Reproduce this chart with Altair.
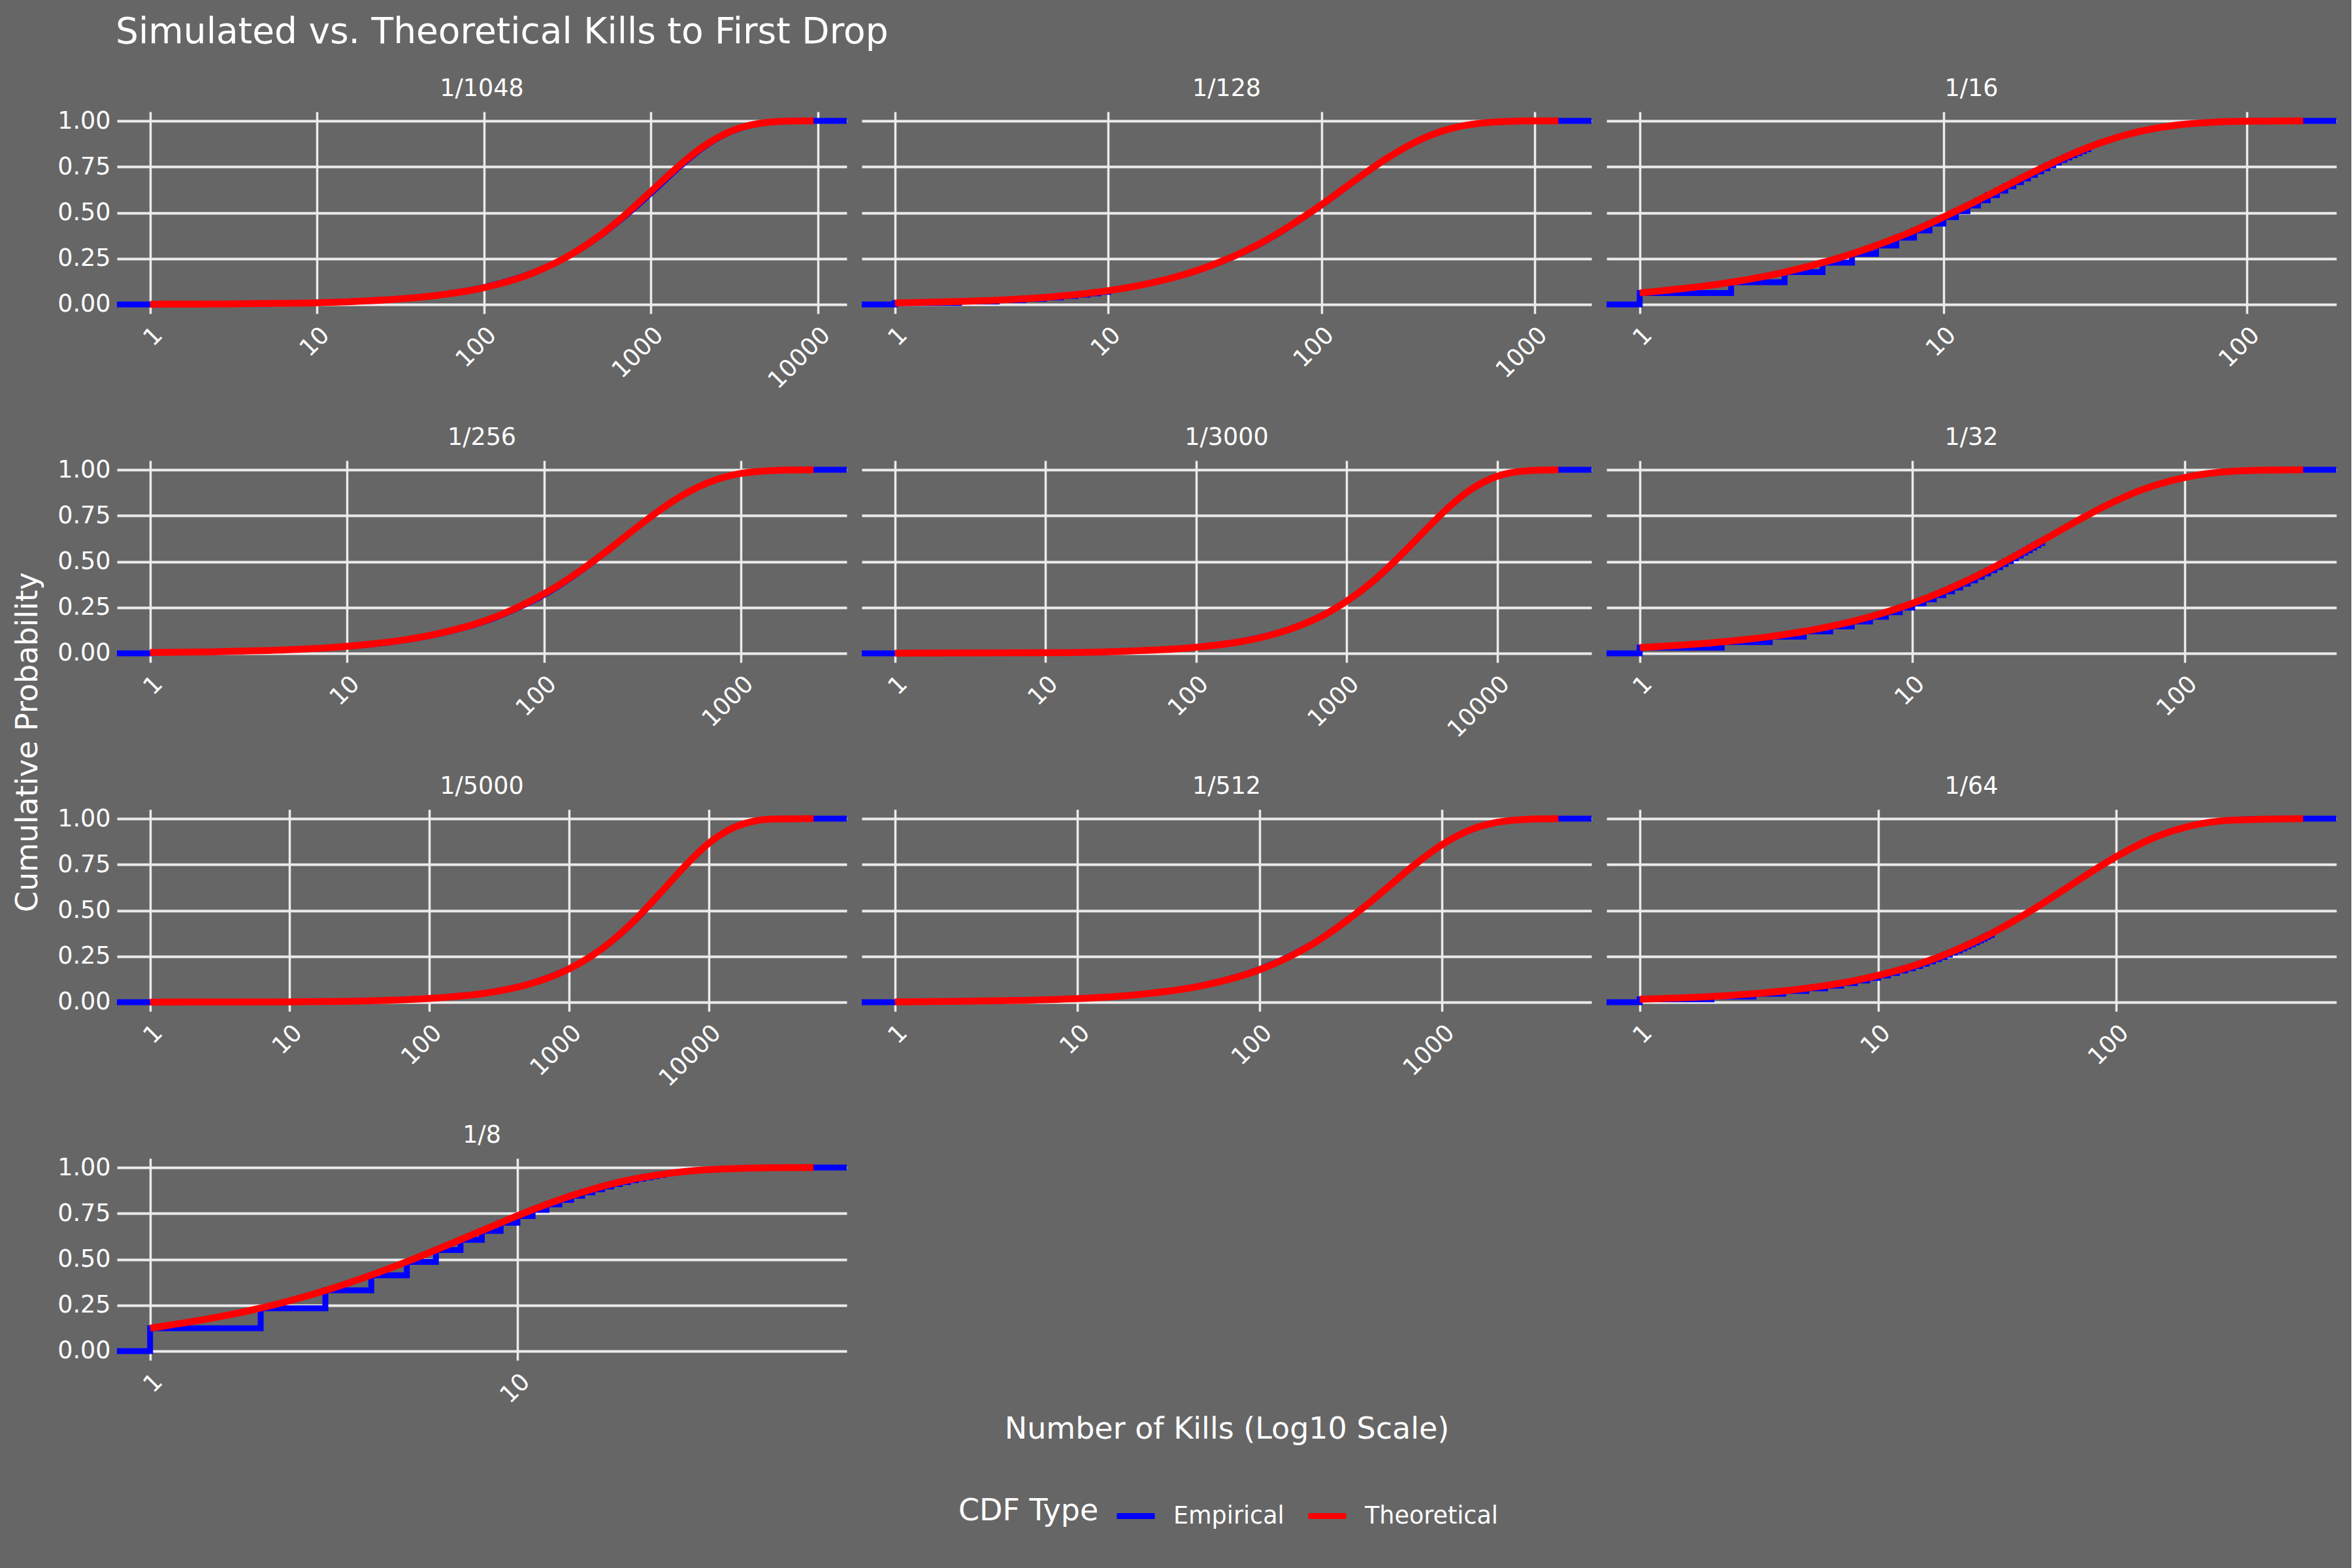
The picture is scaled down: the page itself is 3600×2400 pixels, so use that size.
import math
import altair as alt
import pandas as pd

FONT = "DejaVu Sans"
TXT = "#FFFFFF"
BG = "#666666"
GRID = "#EBEBEB"

panels = ["1/1048", "1/128", "1/16", "1/256", "1/3000",
          "1/32", "1/5000", "1/512", "1/64", "1/8"]
# largest observed number of kills per panel (end of the red curve)
panel_max = [9440, 1290, 153, 2335, 25500, 272, 56500, 4345, 608, 64]
# kills up to which the empirical CDF is drawn as visible steps
step_limit = [1, 10, 30, 1, 1, 30, 1, 1, 30, 25]

# ---- theoretical CDF ----
t_1048_x = [1, 2, 5, 10, 20, 50, 100, 200, 300, 500, 700, 1000, 1500, 2000, 3000, 4000, 5000, 7000, 9440]
t_1048_y = [0.001, 0.002, 0.005, 0.009, 0.019, 0.047, 0.091, 0.174, 0.249, 0.379, 0.487, 0.615, 0.761, 0.852, 0.943, 0.978, 0.992, 0.999, 1.0]
t_128_x = [1, 2, 3, 5, 7, 10, 15, 20, 30, 50, 70, 100, 150, 200, 300, 400, 500, 700, 1000, 1290]
t_128_y = [0.008, 0.016, 0.023, 0.038, 0.053, 0.075, 0.111, 0.145, 0.210, 0.324, 0.423, 0.543, 0.692, 0.792, 0.905, 0.957, 0.980, 0.996, 1.0, 1.0]
t_16_x = [1, 2, 3, 4, 5, 6, 7, 8, 9, 10, 12, 15, 20, 25, 30, 40, 50, 60, 80, 100, 153]
t_16_y = [0.0625, 0.121, 0.176, 0.228, 0.276, 0.321, 0.363, 0.402, 0.440, 0.476, 0.539, 0.620, 0.725, 0.801, 0.856, 0.924, 0.960, 0.979, 0.994, 0.998, 1.0]
t_256_x = [1, 2, 5, 10, 20, 30, 50, 70, 100, 150, 200, 300, 400, 500, 700, 1000, 1500, 2335]
t_256_y = [0.004, 0.008, 0.019, 0.038, 0.075, 0.111, 0.177, 0.240, 0.324, 0.444, 0.543, 0.691, 0.791, 0.859, 0.935, 0.980, 0.997, 1.0]
t_3000_x = [1, 10, 30, 100, 200, 300, 500, 700, 1000, 1500, 2000, 3000, 4000, 5000, 7000, 10000, 15000, 25500]
t_3000_y = [0.0003, 0.003, 0.010, 0.033, 0.064, 0.095, 0.154, 0.208, 0.283, 0.393, 0.487, 0.632, 0.736, 0.811, 0.903, 0.964, 0.993, 1.0]
t_32_x = [1, 2, 3, 4, 5, 6, 7, 8, 9, 10, 12, 15, 20, 25, 30, 40, 50, 70, 100, 150, 200, 272]
t_32_y = [0.031, 0.062, 0.091, 0.119, 0.147, 0.173, 0.199, 0.224, 0.248, 0.272, 0.317, 0.379, 0.470, 0.548, 0.614, 0.719, 0.796, 0.892, 0.958, 0.992, 0.998, 1.0]
t_5000_x = [1, 10, 30, 100, 300, 500, 1000, 1500, 2000, 3000, 4000, 5000, 7000, 10000, 15000, 20000, 30000, 56500]
t_5000_y = [0.0002, 0.002, 0.006, 0.020, 0.058, 0.095, 0.181, 0.259, 0.330, 0.451, 0.551, 0.632, 0.753, 0.865, 0.950, 0.982, 0.998, 1.0]
t_512_x = [1, 2, 5, 10, 20, 50, 100, 150, 200, 300, 400, 500, 700, 1000, 1500, 2000, 3000, 4345]
t_512_y = [0.002, 0.004, 0.010, 0.019, 0.038, 0.093, 0.177, 0.254, 0.323, 0.444, 0.542, 0.623, 0.745, 0.858, 0.947, 0.980, 0.997, 1.0]
t_64_x = [1, 2, 3, 4, 5, 6, 7, 8, 10, 12, 15, 20, 25, 30, 40, 50, 70, 100, 150, 200, 300, 608]
t_64_y = [0.016, 0.031, 0.046, 0.061, 0.076, 0.090, 0.104, 0.118, 0.146, 0.172, 0.210, 0.270, 0.326, 0.376, 0.467, 0.545, 0.668, 0.793, 0.906, 0.957, 0.991, 1.0]
t_8_x = [1, 2, 3, 4, 5, 6, 7, 8, 9, 10, 12, 14, 16, 18, 20, 25, 30, 40, 50, 64]
t_8_y = [0.125, 0.234, 0.330, 0.414, 0.487, 0.551, 0.607, 0.656, 0.699, 0.737, 0.799, 0.846, 0.882, 0.910, 0.931, 0.964, 0.982, 0.995, 0.999, 1.0]

# ---- empirical CDF ----
e_1048_x = t_1048_x
e_1048_y = [0.001, 0.002, 0.005, 0.010, 0.020, 0.049, 0.094, 0.176, 0.248, 0.375, 0.480, 0.605, 0.752, 0.846, 0.940, 0.977, 0.991, 0.999, 1.0]
e_128_x = [1, 2, 3, 4, 5, 6, 7, 8, 9, 10, 15, 20, 30, 50, 70, 100, 150, 200, 300, 400, 500, 700, 1000, 1290]
e_128_y = [0.0078, 0.0155, 0.0233, 0.0309, 0.0385, 0.0460, 0.0534, 0.0608, 0.0682, 0.0754, 0.110, 0.144, 0.208, 0.321, 0.420, 0.540, 0.690, 0.791, 0.904, 0.956, 0.980, 0.996, 1.0, 1.0]
e_16_x = [1, 2, 3, 4, 5, 6, 7, 8, 9, 10, 11, 12, 13, 14, 15, 16, 17, 18, 19, 20, 21, 22, 23, 24, 25, 26, 27, 28, 29, 30,
          35, 40, 50, 60, 80, 100, 153]
e_16_y = [0.0625, 0.1211, 0.1760, 0.2275, 0.2758, 0.3210, 0.3635, 0.4033, 0.4406, 0.4756, 0.5084, 0.5391, 0.5679, 0.5949, 0.6202,
          0.6440, 0.6662, 0.6871, 0.7066, 0.7250, 0.7422, 0.7583, 0.7734, 0.7875, 0.8008, 0.8132, 0.8249, 0.8359, 0.8461, 0.8557,
          0.895, 0.924, 0.960, 0.979, 0.994, 0.998, 1.0]
e_256_x = t_256_x
e_256_y = [0.004, 0.008, 0.019, 0.037, 0.073, 0.108, 0.173, 0.236, 0.318, 0.440, 0.540, 0.690, 0.790, 0.858, 0.934, 0.980, 0.997, 1.0]
e_3000_x = t_3000_x
e_3000_y = [0.0003, 0.003, 0.010, 0.034, 0.066, 0.097, 0.156, 0.210, 0.283, 0.390, 0.484, 0.630, 0.735, 0.810, 0.902, 0.963, 0.993, 1.0]
e_32_x = [1, 2, 3, 4, 5, 6, 7, 8, 9, 10, 11, 12, 13, 14, 15, 16, 17, 18, 19, 20, 21, 22, 23, 24, 25, 26, 27, 28, 29, 30,
          40, 50, 70, 100, 150, 200, 272]
e_32_y = [0.0313, 0.0615, 0.0908, 0.1193, 0.1468, 0.1735, 0.1993, 0.2243, 0.2486, 0.2720, 0.2948, 0.3167, 0.3381, 0.3587, 0.3787,
          0.3981, 0.4169, 0.4351, 0.4528, 0.4699, 0.4864, 0.5025, 0.5180, 0.5331, 0.5477, 0.5618, 0.5755, 0.5888, 0.6016, 0.6141,
          0.719, 0.796, 0.892, 0.958, 0.992, 0.998, 1.0]
e_5000_x = t_5000_x
e_5000_y = [0.0002, 0.002, 0.006, 0.021, 0.060, 0.097, 0.183, 0.258, 0.327, 0.447, 0.548, 0.630, 0.752, 0.864, 0.950, 0.982, 0.998, 1.0]
e_512_x = t_512_x
e_512_y = [0.002, 0.004, 0.010, 0.019, 0.039, 0.095, 0.180, 0.257, 0.325, 0.446, 0.543, 0.623, 0.744, 0.857, 0.946, 0.980, 0.997, 1.0]
e_64_x = [1, 2, 3, 4, 5, 6, 7, 8, 9, 10, 11, 12, 13, 14, 15, 16, 17, 18, 19, 20, 21, 22, 23, 24, 25, 26, 27, 28, 29, 30,
          40, 50, 70, 100, 150, 200, 300, 400, 608]
e_64_y = [0.0156, 0.0310, 0.0461, 0.0611, 0.0757, 0.0901, 0.1043, 0.1183, 0.1321, 0.1456, 0.1589, 0.1721, 0.1850, 0.1977, 0.2103,
          0.2226, 0.2348, 0.2467, 0.2585, 0.2701, 0.2815, 0.2927, 0.3038, 0.3147, 0.3254, 0.3359, 0.3463, 0.3565, 0.3666, 0.3765,
          0.467, 0.545, 0.668, 0.793, 0.906, 0.957, 0.991, 0.998, 1.0]
e_8_x = [1, 2, 3, 4, 5, 6, 7, 8, 9, 10, 11, 12, 13, 14, 15, 16, 17, 18, 19, 20, 21, 22, 23, 24, 25,
         30, 35, 40, 50, 64]
e_8_y = [0.124, 0.233, 0.331, 0.413, 0.486, 0.551, 0.606, 0.655, 0.699, 0.736, 0.770, 0.799, 0.824, 0.846, 0.865,
         0.882, 0.897, 0.910, 0.921, 0.931, 0.940, 0.947, 0.954, 0.960, 0.965,
         0.982, 0.991, 0.995, 0.999, 1.0]

theo = [(t_1048_x, t_1048_y), (t_128_x, t_128_y), (t_16_x, t_16_y), (t_256_x, t_256_y), (t_3000_x, t_3000_y),
        (t_32_x, t_32_y), (t_5000_x, t_5000_y), (t_512_x, t_512_y), (t_64_x, t_64_y), (t_8_x, t_8_y)]
emp = [(e_1048_x, e_1048_y), (e_128_x, e_128_y), (e_16_x, e_16_y), (e_256_x, e_256_y), (e_3000_x, e_3000_y),
       (e_32_x, e_32_y), (e_5000_x, e_5000_y), (e_512_x, e_512_y), (e_64_x, e_64_y), (e_8_x, e_8_y)]

rows = []
for i, name in enumerate(panels):
    r, c = i // 3, i % 3
    lg = math.log10(panel_max[i])
    left = 10 ** (-0.05 * lg)      # ggplot-style 5% expansion on the log axis
    right = 10 ** (1.05 * lg)
    K = step_limit[i]
    base = dict(panel=name, r=r, c=c)
    rows.append(dict(base, x=left, y=0.0, type="Empirical", part="step"))
    ex, ey = emp[i]
    for xv, yv in zip(ex, ey):
        if xv <= K:
            rows.append(dict(base, x=xv, y=yv, type="Empirical", part="step"))
        if xv >= K:
            rows.append(dict(base, x=xv, y=yv, type="Empirical", part="smooth"))
    rows.append(dict(base, x=right, y=1.0, type="Empirical", part="smooth"))
    tx, ty = theo[i]
    for xv, yv in zip(tx, ty):
        rows.append(dict(base, x=xv, y=yv, type="Theoretical", part="theory"))
    rows.append(dict(base, x=1.0, y=0.0, type="Theoretical", part="label"))

df = pd.DataFrame(rows)

W, H = 1117, 309

x_enc = alt.X("x:Q", scale=alt.Scale(type="log", nice=False, zero=False),
              axis=alt.Axis(values=[1, 10, 100, 1000, 10000], format="d", title=None,
                            labelAngle=315, labelAlign="right", labelBaseline="top",
                            labelPadding=14, labelFontSize=36.5, labelColor=TXT, labelFont=FONT,
                            ticks=False, domain=False, grid=True, gridColor=GRID, gridWidth=3.5,
                            labelOverlap=False, labelFlush=False))
y_enc = alt.Y("y:Q", scale=alt.Scale(domain=[-0.05, 1.05], nice=False, zero=False),
              axis=alt.Axis(values=[0, 0.25, 0.5, 0.75, 1.0], format=".2f", title=None,
                            labelFontSize=36.5, labelColor=TXT, labelFont=FONT, labelPadding=10,
                            ticks=False, domain=False, grid=True, gridColor=GRID, gridWidth=4,
                            labelOverlap=False, labelFlush=False))
color_enc = alt.Color("type:N",
                      scale=alt.Scale(domain=["Empirical", "Theoretical"], range=["#0000FF", "#FF0000"]),
                      legend=alt.Legend(title="CDF Type", orient="none", legendX=1288, legendY=2116,
                                        direction="horizontal", gridAlign="none",
                                        titleOrient="left", symbolType="stroke", symbolSize=3364,
                                        symbolStrokeWidth=9, labelOffset=24, columnPadding=18,
                                        titlePadding=23, labelFontSize=36.5, titleFontSize=46,
                                        labelLimit=600, titleLimit=600,
                                        labelColor=TXT, titleColor=TXT, labelFont=FONT, titleFont=FONT,
                                        titleFontWeight="normal"))

step = alt.Chart().mark_line(interpolate="step-after", strokeWidth=9).encode(
    x=x_enc, y=y_enc, color=color_enc).transform_filter(alt.datum.part == "step")
smooth = alt.Chart().mark_line(interpolate="monotone", strokeWidth=9).encode(
    x=x_enc, y=y_enc, color=color_enc).transform_filter(alt.datum.part == "smooth")
theory = alt.Chart().mark_line(interpolate="monotone", strokeWidth=10.5).encode(
    x=x_enc, y=y_enc, color=color_enc).transform_filter(alt.datum.part == "theory")
labels = alt.Chart().mark_text(fontSize=36.5, font=FONT, color=TXT, baseline="alphabetic", align="center").encode(
    x=alt.value(W / 2), y=alt.value(-24), text="panel:N").transform_filter(alt.datum.part == "label")

layered = alt.layer(step, smooth, theory, labels).properties(width=W, height=H)

chart = layered.facet(
    data=df,
    row=alt.Row("r:O", header=alt.Header(labels=False, title="Cumulative Probability",
                                          titleOrient="left", titleFontSize=46, titleColor=TXT,
                                          titleFont=FONT, titleFontWeight="normal", titlePadding=10)),
    column=alt.Column("c:O", header=alt.Header(labels=False, orient="bottom", titleOrient="bottom",
                                                title="Number of Kills (Log10 Scale)", titleFontSize=46,
                                                titleColor=TXT, titleFont=FONT, titleFontWeight="normal",
                                                titlePadding=74)),
    spacing={"row": 225, "column": 23},
    bounds="flush",
).resolve_scale(x="independent").properties(
    title=alt.TitleParams("Simulated vs. Theoretical Kills to First Drop", anchor="start",
                          fontSize=55, font=FONT, fontWeight="normal", color=TXT, dx=157, offset=40,
                          baseline="top"),
    padding={"left": 19, "top": 22, "right": 5, "bottom": 150},
    background=BG,
).configure(font=FONT).configure_view(stroke="transparent", strokeWidth=0)

chart.save("out.html", embed_options={"renderer": "svg", "actions": False})
